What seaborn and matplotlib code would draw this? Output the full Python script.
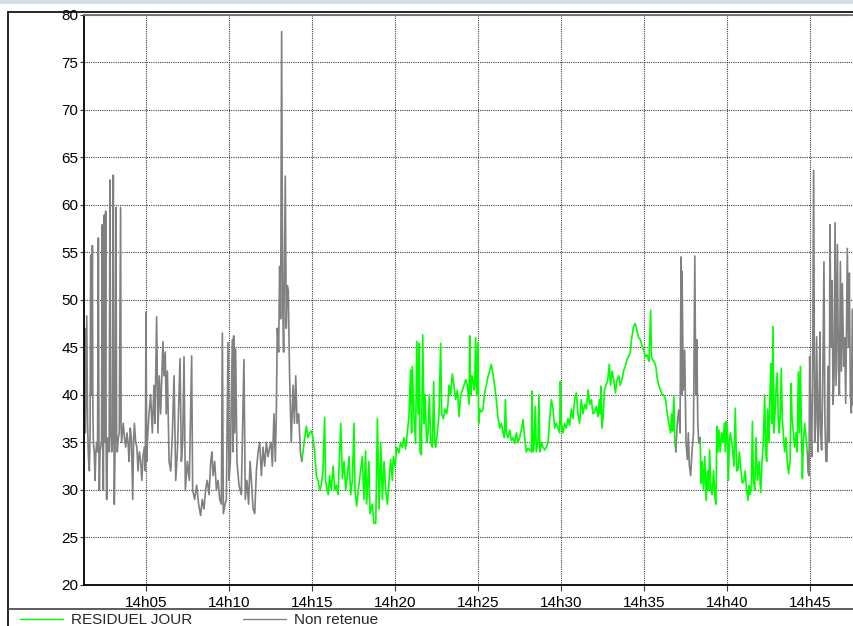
import matplotlib
matplotlib.use("Agg")
import pandas as pd
import matplotlib.pyplot as plt
from matplotlib.lines import Line2D
from matplotlib.patches import Rectangle
import seaborn as sns

# (minutes after 14h00, value), one list per continuous stretch
non_retenue_1 = [
    (1.27, 41), (1.30, 47), (1.35, 36), (1.43, 48.3), (1.48, 37), (1.53, 33.5), (1.59, 32), (1.63, 36),
    (1.67, 54.7), (1.72, 40), (1.77, 55.7), (1.80, 38), (1.83, 35), (1.88, 34), (1.93, 31), (1.98, 34),
    (2.03, 35), (2.08, 34), (2.13, 56.5), (2.17, 33), (2.19, 30), (2.23, 34), (2.27, 34.5), (2.32, 35),
    (2.37, 57.9), (2.40, 40), (2.43, 30), (2.49, 58.9), (2.53, 35), (2.57, 59.3), (2.60, 34), (2.63, 29),
    (2.68, 35), (2.73, 35.5), (2.78, 34), (2.83, 62.6), (2.88, 36), (2.93, 34), (2.98, 35), (3.03, 63.1),
    (3.06, 40), (3.09, 28.5), (3.14, 35), (3.19, 59.7), (3.23, 36), (3.27, 34), (3.33, 35.5), (3.39, 36),
    (3.47, 59.7), (3.50, 37), (3.53, 35), (3.63, 37), (3.70, 35.5), (3.78, 34.5), (3.85, 36), (3.92, 35),
    (3.98, 33), (4.05, 36.5), (4.12, 35.5), (4.20, 29), (4.25, 35), (4.30, 37), (4.38, 35), (4.45, 34.5),
    (4.52, 32), (4.60, 34), (4.68, 33), (4.75, 31), (4.82, 33.5), (4.90, 34.5), (4.96, 32), (5.00, 48.7),
    (5.04, 33), (5.08, 35), (5.18, 38), (5.28, 40), (5.38, 36), (5.48, 41), (5.54, 37), (5.64, 48.2),
    (5.72, 36), (5.80, 42), (5.88, 38), (6.02, 45.6), (6.08, 42), (6.16, 44.5), (6.22, 38), (6.29, 42.5),
    (6.39, 33), (6.49, 32), (6.59, 36), (6.69, 42), (6.79, 31), (6.89, 34), (7.05, 43.8), (7.13, 33),
    (7.21, 35), (7.29, 44), (7.37, 30), (7.49, 33), (7.61, 31), (7.75, 44.1), (7.81, 30), (7.93, 29),
    (8.05, 30.5), (8.17, 28.5), (8.29, 27.3), (8.39, 29), (8.49, 28), (8.59, 30), (8.69, 31), (8.80, 29.5),
    (8.90, 33), (8.97, 34), (9.04, 31.5), (9.14, 33), (9.24, 30), (9.34, 31), (9.44, 29), (9.54, 28.5),
    (9.60, 46.5), (9.66, 27.5), (9.76, 28.5), (9.84, 29), (9.94, 45.5), (10.00, 31), (10.08, 33),
    (10.20, 45.8), (10.24, 34), (10.28, 46.2), (10.34, 36), (10.40, 44.8), (10.48, 33), (10.60, 30.5),
    (10.74, 29.5), (10.90, 43.7), (10.98, 29), (11.08, 31), (11.18, 28.5), (11.27, 33), (11.35, 31),
    (11.45, 28), (11.55, 27.5), (11.65, 32), (11.75, 34), (11.85, 35), (11.95, 31.5), (12.05, 34.5),
    (12.15, 32.5), (12.25, 35), (12.35, 33.5), (12.45, 34.5), (12.53, 35), (12.61, 32.5), (12.71, 38),
    (12.79, 33), (12.85, 38), (12.91, 47), (12.99, 44.5), (13.05, 53.5), (13.11, 48), (13.17, 78.2),
    (13.23, 50), (13.29, 44.5), (13.39, 63), (13.45, 47), (13.51, 51.5), (13.57, 51), (13.65, 42),
    (13.75, 35), (13.86, 41), (13.94, 37), (14.02, 42), (14.10, 37), (14.20, 38), (14.30, 34), (14.38, 33),
]
non_retenue_2 = [
    (36.92, 34), (37.00, 37), (37.09, 38.4), (37.17, 36), (37.23, 54.5), (37.27, 40), (37.29, 53),
    (37.37, 40.5), (37.45, 44.7), (37.53, 35), (37.61, 33.2), (37.67, 36), (37.73, 32.6), (37.81, 31.5),
    (37.89, 34), (37.98, 36), (38.06, 54.6), (38.12, 40), (38.18, 45.8), (38.24, 37), (38.30, 34.9),
    (38.38, 35.5),
]
non_retenue_3 = [
    (44.84, 34), (44.88, 31.9), (44.94, 31.5), (44.98, 44), (45.04, 38), (45.10, 33.5), (45.16, 43),
    (45.22, 63.6), (45.28, 35), (45.34, 37), (45.40, 46.1), (45.48, 34), (45.54, 38), (45.60, 46.6),
    (45.64, 36), (45.70, 34.2), (45.76, 40), (45.84, 54), (45.90, 37), (45.96, 33), (46.02, 33),
    (46.08, 43), (46.16, 35), (46.20, 57.9), (46.27, 45), (46.33, 52), (46.39, 39), (46.45, 42),
    (46.51, 58.1), (46.57, 41), (46.65, 55.8), (46.71, 43), (46.77, 40), (46.83, 54), (46.89, 42.5),
    (46.95, 51.7), (47.03, 43), (47.09, 46), (47.15, 39.1), (47.25, 55.4), (47.31, 45), (47.37, 52.8),
    (47.43, 40), (47.49, 38.1), (47.55, 49), (47.61, 38.9), (47.69, 40),
]
residuel_1 = [
    (14.38, 33), (14.46, 34), (14.56, 35.5), (14.66, 36.7), (14.76, 35.5), (14.86, 36), (14.96, 36.2),
    (15.06, 35.5), (15.16, 34), (15.26, 31.5), (15.36, 31), (15.46, 30), (15.56, 30.5), (15.66, 32),
    (15.76, 37.6), (15.82, 31), (15.90, 30), (15.98, 29.5), (16.06, 31.5), (16.16, 30), (16.27, 32.5),
    (16.37, 30), (16.47, 30.5), (16.57, 29.5), (16.73, 37), (16.83, 31.2), (16.93, 33), (17.03, 30),
    (17.13, 31.5), (17.23, 33.5), (17.33, 29.5), (17.43, 31), (17.53, 37), (17.59, 30), (17.69, 28.3),
    (17.79, 30), (17.93, 32), (18.03, 33.5), (18.13, 29), (18.23, 34.1), (18.29, 28.5), (18.43, 33),
    (18.49, 27.5), (18.63, 28.5), (18.73, 26.5), (18.84, 26.5), (18.94, 37.5), (19.04, 28), (19.14, 35),
    (19.24, 29), (19.34, 33), (19.44, 30), (19.54, 28.5), (19.64, 31), (19.74, 33.2), (19.84, 31),
    (19.90, 33.5), (20.00, 32.5), (20.10, 34.5), (20.24, 33.9), (20.34, 35), (20.44, 34.5), (20.54, 35.5),
    (20.64, 34.3), (20.74, 36), (20.84, 37.7), (20.94, 42.6), (21.00, 36), (21.04, 43), (21.14, 38),
    (21.24, 34.9), (21.31, 45.6), (21.39, 38), (21.45, 45.4), (21.51, 34), (21.59, 33.7), (21.67, 46.3),
    (21.75, 37), (21.81, 40), (21.91, 35), (21.99, 36), (22.07, 40), (22.15, 35), (22.25, 34.5),
    (22.33, 41.4), (22.39, 35), (22.45, 34.5), (22.55, 36), (22.65, 38), (22.75, 45.4), (22.81, 38),
    (22.91, 37.5), (23.01, 38.5), (23.11, 38), (23.19, 39), (23.25, 41), (23.35, 40), (23.45, 42.2),
    (23.55, 41), (23.65, 39.5), (23.76, 40.5), (23.86, 37.7), (23.96, 40), (24.06, 40.5), (24.16, 41),
    (24.26, 41.6), (24.36, 41), (24.46, 39), (24.50, 46.2), (24.56, 40), (24.64, 42), (24.70, 41.5),
    (24.76, 40.5), (24.80, 41), (24.86, 46), (24.92, 40), (25.00, 45.5), (25.04, 37), (25.10, 38.5),
    (25.20, 38.2), (25.30, 38.5), (25.40, 40.2), (25.50, 41), (25.60, 41.9), (25.70, 42.5), (25.80, 43.2),
    (25.90, 42.2), (26.00, 41), (26.10, 39.5), (26.20, 37.7), (26.31, 36.5), (26.41, 37), (26.51, 36),
    (26.59, 35.5), (26.65, 39.5), (26.71, 36), (26.81, 35.5), (26.91, 36.3), (27.01, 35.2), (27.11, 35.5),
    (27.21, 34.9), (27.31, 36), (27.41, 35), (27.51, 35.5), (27.61, 36.3), (27.71, 37.4), (27.81, 35.5),
    (27.91, 34), (28.01, 34.4), (28.11, 34.2), (28.21, 34), (28.25, 40.4), (28.31, 34), (28.37, 34.5),
    (28.45, 38.8), (28.51, 34), (28.61, 35), (28.67, 40), (28.73, 34), (28.82, 35), (28.92, 34.5),
    (29.02, 34.2), (29.12, 34.5), (29.22, 35), (29.32, 37.5), (29.42, 39.5), (29.52, 38.5), (29.62, 36.5),
    (29.72, 37), (29.82, 36.5), (29.92, 36), (29.96, 41.4), (30.02, 37), (30.12, 36), (30.22, 37),
    (30.32, 36.5), (30.42, 37.5), (30.52, 36.8), (30.62, 38.5), (30.72, 37.5), (30.82, 39.5), (30.92, 40.2),
    (31.02, 38), (31.12, 37), (31.22, 39.5), (31.33, 38), (31.43, 39), (31.53, 38.5), (31.63, 40.5),
    (31.73, 39), (31.83, 39.5), (31.93, 38), (32.03, 38.2), (32.13, 38.8), (32.23, 37.7), (32.31, 39.5),
    (32.37, 38), (32.41, 40.9), (32.47, 36.5), (32.55, 38), (32.61, 40.5), (32.71, 41), (32.81, 41.5),
    (32.91, 43.2), (32.98, 41), (33.08, 42.5), (33.18, 41.5), (33.28, 40.2), (33.36, 41.5), (33.48, 42),
    (33.56, 41), (33.66, 41.5), (33.77, 42.5), (33.87, 43), (33.97, 43.7), (34.07, 44), (34.17, 44.5),
    (34.27, 46.1), (34.37, 47.2), (34.47, 47.5), (34.57, 46.8), (34.68, 46), (34.78, 45.8), (34.88, 45.2),
    (34.98, 44.7), (35.08, 44), (35.18, 44.2), (35.30, 43.5), (35.40, 48.9), (35.45, 44), (35.51, 43.7),
    (35.61, 43.5), (35.71, 43), (35.79, 41.8), (35.89, 41), (35.99, 40.5), (36.09, 40), (36.19, 40),
    (36.30, 39.5), (36.40, 38), (36.50, 37), (36.60, 36), (36.66, 38), (36.72, 36.2), (36.80, 39.8),
    (36.86, 35), (36.92, 34),
]
residuel_2 = [
    (38.38, 35.5), (38.44, 30.7), (38.50, 33), (38.58, 30), (38.66, 33.5), (38.74, 28.9), (38.83, 32),
    (38.89, 30), (38.95, 34.2), (39.03, 30), (39.11, 29.5), (39.19, 32), (39.27, 29.3), (39.33, 28.5),
    (39.39, 36.7), (39.45, 34), (39.51, 36.3), (39.59, 34), (39.68, 36), (39.76, 35), (39.84, 37),
    (39.90, 34), (39.96, 37.2), (40.02, 36), (40.08, 31), (40.14, 35), (40.20, 36), (40.32, 34.5),
    (40.42, 32.5), (40.50, 38.6), (40.58, 32), (40.66, 32.1), (40.74, 34), (40.82, 32.5), (40.92, 30.7),
    (41.02, 31), (41.10, 32), (41.18, 30), (41.27, 28.9), (41.33, 30.5), (41.39, 29.5), (41.47, 30.5),
    (41.53, 37.2), (41.59, 31), (41.67, 30), (41.75, 35.5), (41.83, 31), (41.93, 33), (42.03, 29.7),
    (42.11, 33), (42.19, 35), (42.27, 40), (42.33, 34), (42.39, 33), (42.45, 38.5), (42.53, 35),
    (42.59, 40), (42.65, 43.3), (42.71, 37), (42.77, 47.2), (42.83, 36), (42.89, 38), (42.95, 40.5),
    (43.03, 42.3), (43.09, 37), (43.15, 36), (43.21, 38), (43.27, 42.8), (43.33, 37.5), (43.39, 36),
    (43.47, 34), (43.55, 35.5), (43.63, 33), (43.71, 31.7), (43.80, 33), (43.86, 41.2), (43.92, 37.5),
    (44.00, 36), (44.08, 34.5), (44.16, 36), (44.22, 34), (44.30, 42.4), (44.36, 36), (44.42, 43),
    (44.48, 37), (44.54, 31.2), (44.60, 35), (44.68, 37), (44.76, 35.5), (44.84, 34),
]

tick_minutes = [5, 10, 15, 20, 25, 30, 35, 40, 45]
tick_labels = ["14h05", "14h10", "14h15", "14h20", "14h25", "14h30", "14h35", "14h40", "14h45"]
y_ticks = [20, 25, 30, 35, 40, 45, 50, 55, 60, 65, 70, 75, 80]

series = {
    "RESIDUEL JOUR": [residuel_1, residuel_2],
    "Non retenue": [non_retenue_1, non_retenue_2, non_retenue_3],
}
colors = {"RESIDUEL JOUR": "#00ff00", "Non retenue": "#808080"}

rows = []
for name, segments in series.items():
    for i, seg in enumerate(segments):
        for minute, value in seg:
            rows.append((minute, value, name, f"{name}-{i}"))
df = pd.DataFrame(rows, columns=["minute", "valeur", "serie", "segment"])

sns.set_theme(style="white")
plt.rcParams["font.family"] = ["Liberation Sans", "DejaVu Sans"]

W, H = 854, 626
fig = plt.figure(figsize=(W / 100, H / 100), dpi=100)
fig.patch.set_facecolor("white")

ax = fig.add_axes([84 / W, 41 / H, 1 - 84 / W, 570.5 / H])
sns.lineplot(data=df, x="minute", y="valeur", hue="serie", units="segment",
             estimator=None, hue_order=list(series), palette=colors,
             linewidth=1.2, legend=False, ax=ax)

ax.set_xlim(1.265, 47.65)
ax.set_ylim(20, 80)
ax.set_xticks(tick_minutes)
ax.set_xticklabels(tick_labels)
ax.set_yticks(y_ticks)
ax.set_xlabel("")
ax.set_ylabel("")
ax.grid(True, color="#404040", linestyle=(0, (1, 1)), linewidth=0.8)
ax.tick_params(axis="x", direction="out", length=4, width=0.8, color="#404040",
               pad=4, labelsize=11, colors="black", bottom=True)
ax.tick_params(axis="y", direction="out", length=3, width=0.8, color="#404040",
               pad=1, labelsize=11, colors="black", left=True)
for side in ["left", "bottom"]:
    ax.spines[side].set_color("black")
    ax.spines[side].set_linewidth(1.3)
ax.spines["top"].set_color("#707070")
ax.spines["top"].set_linewidth(1.3)
ax.spines["right"].set_visible(False)

# window frame around the chart
fig.add_artist(Rectangle((0, 1 - 4 / H), 1, 4 / H, transform=fig.transFigure,
                         color="#d6dde4", lw=0))
fig.add_artist(Line2D([8 / W, 8 / W], [0, 1 - 12 / H], transform=fig.transFigure,
                      color="black", lw=1.2))
fig.add_artist(Line2D([8 / W, 1], [1 - 12 / H, 1 - 12 / H], transform=fig.transFigure,
                      color="black", lw=1.2))
fig.add_artist(Line2D([8 / W, 1], [1 - 609 / H, 1 - 609 / H], transform=fig.transFigure,
                      color="#404040", lw=1.2))

handles = [Line2D([], [], color=colors[n], lw=1.0) for n in series]
fig.legend(handles, list(series), loc="upper left", bbox_to_anchor=(20 / W, 1 - 613 / H),
           ncol=2, frameon=False, fontsize=11, borderpad=0, borderaxespad=0,
           handlelength=2.8, handletextpad=0.55, columnspacing=3.3)

fig.savefig("out.png", dpi=100)
